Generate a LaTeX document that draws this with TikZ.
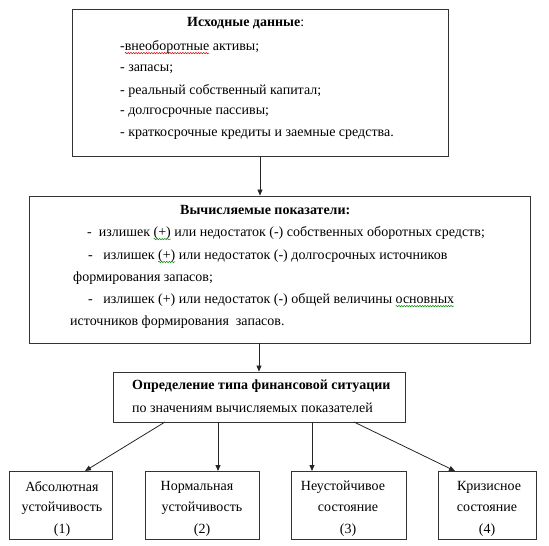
\documentclass[tikz,border=0pt]{standalone}
\usepackage{fontspec}
\setmainfont{Liberation Serif}
\usetikzlibrary{arrows.meta,decorations.pathmorphing}
\newcommand\wavyline[2]{\tikz[baseline=(w.base)]{\node[inner sep=0pt,outer sep=0pt,anchor=base] (w) at (0,0) {#2};
  \draw[overlay,#1,line width=0.5pt,decorate,decoration={snake,amplitude=0.7pt,segment length=2.6pt}] ([yshift=-2.6pt]w.base west) -- ([yshift=-2.6pt]w.base east);}}
\begin{document}
\begin{tikzpicture}[x=1pt,y=-1pt,
  box/.style={draw=black!80,line width=0.9pt,rectangle,inner sep=0pt},
  txt/.style={inner sep=0pt,anchor=west,font=\fontsize{14}{16}\selectfont},
  ctxt/.style={inner sep=0pt,anchor=center,font=\fontsize{14}{16}\selectfont},
  conn/.style={draw=black!85,line width=0.8pt,-{Triangle[length=6pt,width=5pt]}}]
\useasboundingbox (0,0) rectangle (549,546);
% boxes
\node[box,minimum width=376pt,minimum height=147pt] (b1) at (260,82.5) {};
\node[box,minimum width=501pt,minimum height=147pt] (b2) at (280,269.5) {};
\node[box,minimum width=292pt,minimum height=50pt] (b3) at (259,397) {};
\node[box,minimum width=103pt,minimum height=68pt] (ba) at (60.5,505) {};
\node[box,minimum width=114pt,minimum height=68pt] (bb) at (202,505) {};
\node[box,minimum width=115pt,minimum height=68pt] (bc) at (348.5,505) {};
\node[box,minimum width=98pt,minimum height=68pt] (bd) at (487,505) {};
% texts box 1
\node[txt] (t1) at (187,23) {\textbf{Исходные данные}:};
\node[txt] (t1a) at (120,47) {-\wavyline{red!85!black}{внеоборотные} активы;};
\node[txt] (t1b) at (120,69) {- запасы;};
\node[txt] (t1c) at (120,91) {- реальный собственный капитал;};
\node[txt] (t1d) at (120,113) {- долгосрочные пассивы;};
\node[txt] (t1e) at (120,135) {- краткосрочные кредиты и заемные средства.};
% texts box 2
\node[txt] (t2) at (180,210) {\textbf{Вычисляемые показатели:}};
\node[txt] (t2a) at (87,233) {-\ \ излишек \wavyline{green!55!black}{(+)} или недостаток (-) собственных оборотных средств;};
\node[txt] (t2b) at (88,256) {-\ \ \ излишек \wavyline{green!55!black}{(+)} или недостаток (-) долгосрочных источников};
\node[txt] (t2c) at (73,278) {формирования запасов;};
\node[txt] (t2d) at (88,300) {-\ \ \ излишек (+) или недостаток (-) общей величины \wavyline{green!55!black}{основных}};
\node[txt] (t2e) at (70,322) {источников формирования\ \ запасов.};
% texts box 3
\node[txt] (t3) at (132,386) {\textbf{Определение типа финансовой ситуации}};
\node[txt] (t3a) at (132,408) {по значениям вычисляемых показателей};
% bottom texts
\node[ctxt] (ta1) at (62,487) {Абсолютная};
\node[ctxt] (ta2) at (62,508) {устойчивость};
\node[ctxt] (ta3) at (62,530) {(1)};
\node[ctxt] (tb1) at (197,487) {Нормальная};
\node[ctxt] (tb2) at (202,508) {устойчивость};
\node[ctxt] (tb3) at (202,530) {(2)};
\node[ctxt] (tc1) at (343,487) {Неустойчивое};
\node[ctxt] (tc2) at (348,508) {состояние};
\node[ctxt] (tc3) at (348,530) {(3)};
\node[ctxt] (td1) at (489,487) {Кризисное};
\node[ctxt] (td2) at (487,508) {состояние};
\node[ctxt] (td3) at (487,530) {(4)};
% connectors
\draw[conn] (b1.south) -- (b1.south |- b2.north);
\draw[conn] (b2.south -| b3.north) -- (b3.north);
\coordinate (s1) at (165,422);
\coordinate (s2) at (218,422);
\coordinate (s3) at (312,422);
\coordinate (s4) at (354,422);
\coordinate (e1) at (85,471);
\coordinate (e2) at (218,471);
\coordinate (e3) at (312,471);
\coordinate (e4) at (455,471);
\draw[conn] (s1) -- (e1);
\draw[conn] (s2) -- (e2);
\draw[conn] (s3) -- (e3);
\draw[conn] (s4) -- (e4);
\end{tikzpicture}
\end{document}
